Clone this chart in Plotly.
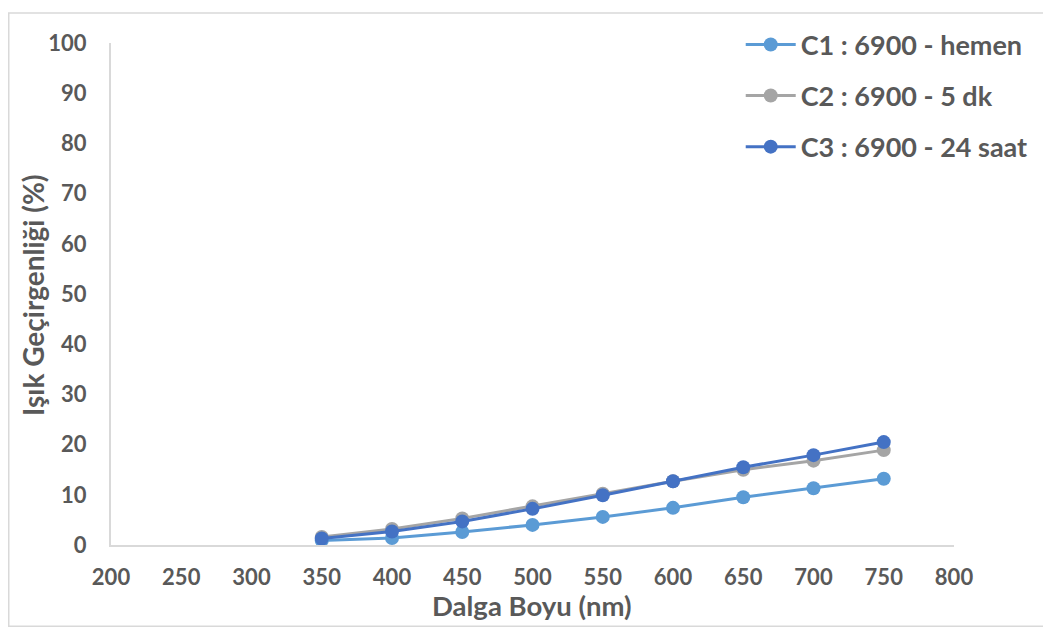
import plotly.graph_objects as go

wavelength = [350, 400, 450, 500, 550, 600, 650, 700, 750]
c1_hemen = [0.9, 1.4, 2.6, 4.0, 5.6, 7.4, 9.5, 11.3, 13.2]
c2_5dk = [1.6, 3.2, 5.3, 7.7, 10.2, 12.7, 15.0, 16.8, 18.9]
c3_24saat = [1.3, 2.7, 4.7, 7.2, 9.9, 12.7, 15.5, 17.9, 20.5]

names = ["C1 : 6900 - hemen", "C2 : 6900 - 5 dk", "C3 : 6900 - 24 saat"]
colors = ["#5b9bd5", "#a5a5a5", "#4472c4"]
series = [c1_hemen, c2_5dk, c3_24saat]

x_title = "Dalga Boyu (nm)"
y_title = "Işık Geçirgenliği (%)"

fig = go.Figure()
for i, (nm, col, ys) in enumerate(zip(names, colors, series)):
    fig.add_trace(go.Scatter(
        x=wavelength, y=ys, name=nm, mode="lines+markers",
        line=dict(color=col, width=3),
        marker=dict(color=col, size=14),
        legendgroup=str(i),
    ))

font_family = "Lato, 'Open Sans', sans-serif"
txt = "#595959"
tick_font = dict(family=font_family, size=22, color=txt, weight="bold")
title_font = dict(family=font_family, size=28, color=txt, weight="bold")

# page body has an 8px margin, so the plot area is placed 8px up/left in canvas coords
L, T, W, H = 103, 31, 843, 506

fig.update_layout(
    width=1051, height=632,
    margin=dict(l=L, r=1051 - L - W, t=T, b=632 - T - H),
    paper_bgcolor="white", plot_bgcolor="white",
    font=dict(family=font_family, color=txt),
    showlegend=True,
    legend=dict(
        x=0.747, y=1.045, xanchor="left", yanchor="top",
        font=dict(family=font_family, size=27, color=txt, weight="bold"),
        tracegroupgap=13, itemwidth=50, bgcolor="rgba(0,0,0,0)",
    ),
    xaxis=dict(
        range=[200, 800], tickvals=list(range(200, 801, 50)),
        showgrid=False, zeroline=False, showline=True, linecolor="#d9d9d9", linewidth=2,
        ticks="outside", ticklen=12, tickcolor="rgba(0,0,0,0)",
        tickfont=tick_font, automargin=False,
    ),
    yaxis=dict(
        range=[0, 100], tickvals=list(range(0, 101, 10)),
        showgrid=False, zeroline=False, showline=True, linecolor="#d9d9d9", linewidth=2,
        ticks="outside", ticklen=18, tickcolor="rgba(0,0,0,0)",
        tickfont=tick_font, automargin=False,
    ),
    annotations=[
        dict(text=x_title, xref="paper", yref="paper", x=(532 - 111) / W, y=-0.121,
             xanchor="center", yanchor="middle", showarrow=False,
             font=dict(family=font_family, size=27.5, color=txt, weight="bold")),
        dict(text=y_title, xref="paper", yref="paper", x=(33 - 111) / W, y=0.498,
             xanchor="center", yanchor="middle", showarrow=False, textangle=-90, font=title_font),
    ],
    shapes=[dict(type="rect", xref="paper", yref="paper",
                 x0=(0.75 - L) / W, x1=1.15, y0=-0.162, y1=(T + H - 0.75) / H,
                 line=dict(color="#d9d9d9", width=1.5), fillcolor="rgba(0,0,0,0)", layer="below")],
)

fig.write_html("out.html")
